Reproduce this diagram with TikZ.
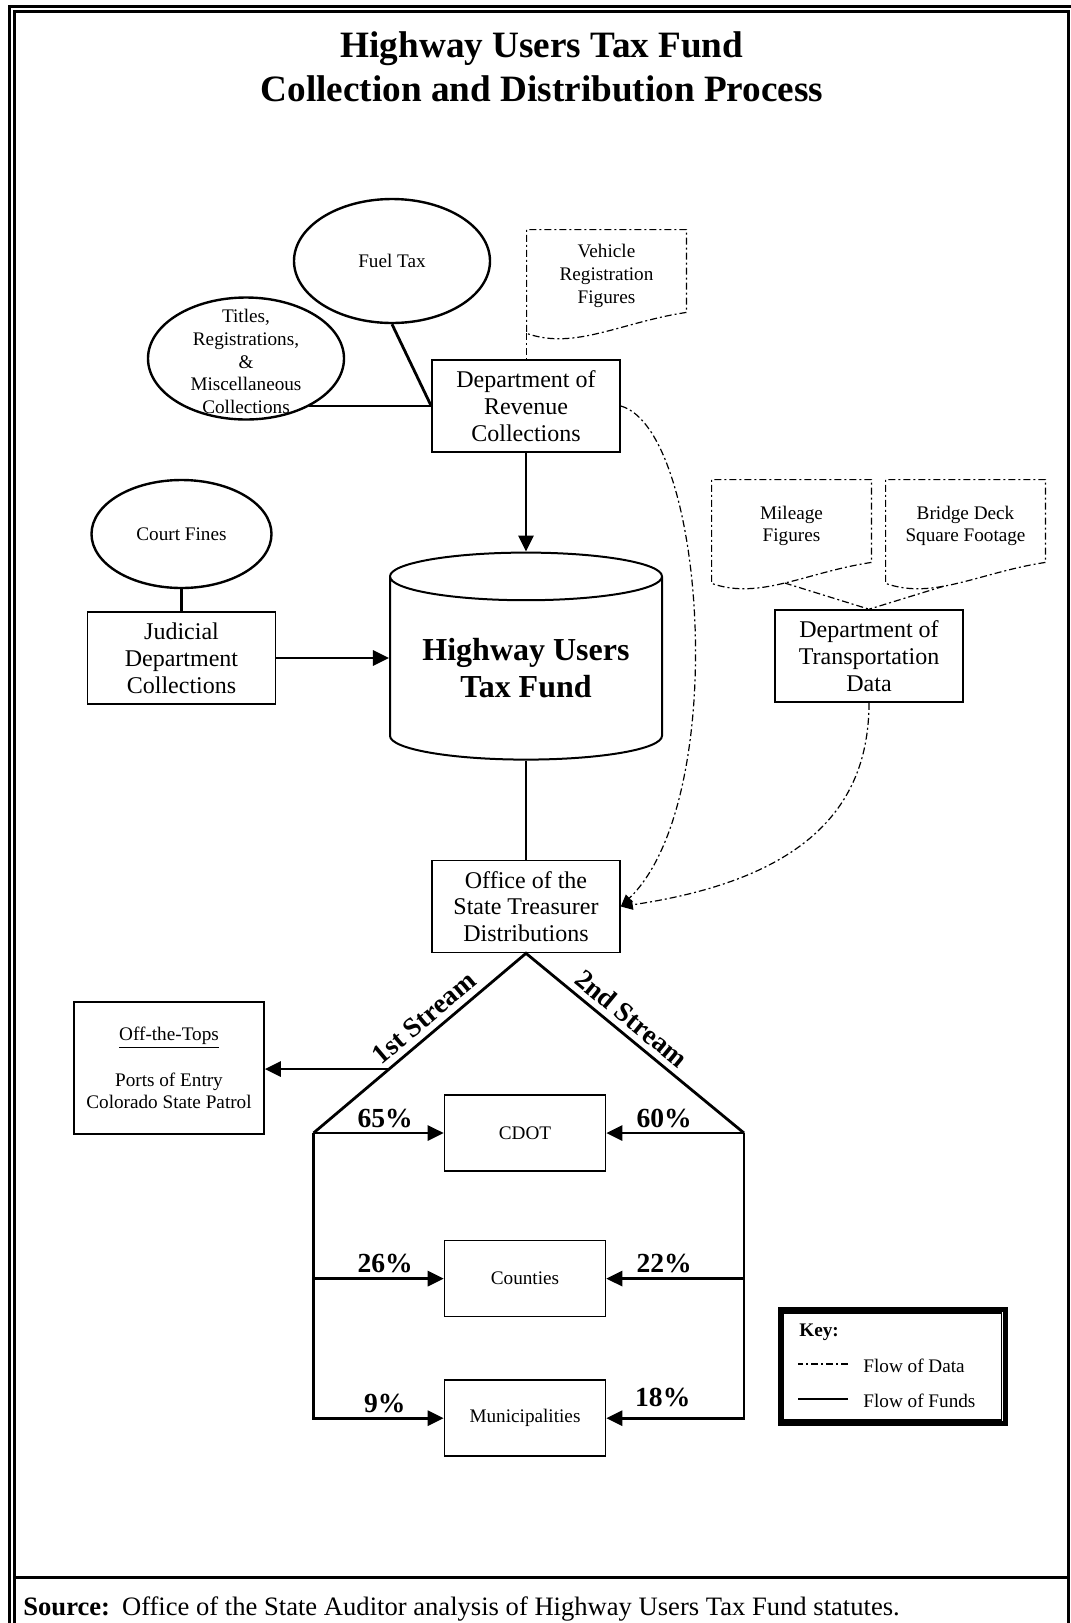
\documentclass[tikz,border=0pt]{standalone}
\usepackage{fontspec}
\setmainfont{Liberation Serif}
\usetikzlibrary{shapes.geometric, arrows.meta, positioning, calc}

\newcommand{\ovaltext}[1]{\smash{\raisebox{-5pt}{\begin{tabular}{@{}c@{}}#1\end{tabular}}}}
\newcommand{\docoutline}[2]{%
  \draw[data] ($(#1.south east)+(0,-10)$)
    .. controls ($(#1.south east)+(-66,0)$) and ($(#1.south west)+(48,28)$) ..
    ($(#1.south west)+(0,11)$) coordinate[pos=#2] (#1-dip) coordinate (#1-foot)
    -- (#1.north west) -- (#1.north east) -- cycle;}

\begin{document}
\begin{tikzpicture}[
  x=0.5pt, y=-0.5pt,
  dept/.style={rectangle, draw, line width=0.8pt, minimum width=94pt, minimum height=46pt, inner sep=1pt, align=center, font=\fontsize{12}{13.4}\selectfont},
  oval/.style={ellipse, draw, line width=1.2pt, inner sep=0pt, font=\fontsize{9.6}{11.4}\selectfont},
  datadoc/.style={rectangle, minimum width=79.5pt, minimum height=46pt, inner sep=0pt, align=center, font=\fontsize{9.6}{11.4}\selectfont},
  share/.style={rectangle, draw, line width=0.8pt, minimum width=80.5pt, minimum height=38pt, font=\fontsize{9.6}{11.4}\selectfont},
  fund/.style={line width=1.4pt},
  fundarrow/.style={fund, -{Triangle[length=8pt, width=7.5pt]}},
  data/.style={line width=0.6pt, dash pattern=on 3.5pt off 1.5pt on 1pt off 1.5pt},
  dataarrow/.style={data, -{Triangle[length=6pt, width=5pt]}},
  pct/.style={font=\fontsize{13.8}{15}\bfseries\selectfont, inner sep=2pt},
  stream/.style={font=\fontsize{13.8}{15}\bfseries\selectfont, inner sep=3pt},
  keytext/.style={anchor=west, inner sep=0pt, font=\fontsize{9.6}{11}\selectfont},
  frame/.style={line width=1.5pt}
]
\useasboundingbox (0,0) rectangle (1071,1623);
\clip (0,0) rectangle (1071,1623);

% page frame
\draw[frame] (9.5,1640) -- (9.5,6.5) -- (1090,6.5);
\draw[frame] (14.5,1640) -- (14.5,11.5) -- (1068.5,11.5) -- (1068.5,1640);
\draw[frame] (14.5,1577) -- (1068.5,1577);

\node[font=\fontsize{18.6}{21.75}\bfseries\selectfont, align=center] (title) at (542,67)
  {Highway Users Tax Fund\\Collection and Distribution Process};

% collections
\node[oval, minimum width=98pt, minimum height=62pt] (fuel) at (392,261) {Fuel Tax};
\node[oval, minimum width=98pt, minimum height=61pt] (titles) at (246,358.5)
  {\ovaltext{Titles,\\Registrations,\\\&\\Miscellaneous\\Collections}};
\node[dept] (dor) at (526,406) {Department of\\Revenue\\Collections};
\node[datadoc] (veh) at (606.5,276) {Vehicle\\Registration\\Figures};
\docoutline{veh}{0.5}

\node[oval, minimum width=90pt, minimum height=54pt] (court) at (181.5,534) {Court Fines};
\node[dept, below=11pt of court] (jud) {Judicial\\Department\\Collections};

\node[cylinder, shape border rotate=90, draw, line width=1pt, minimum width=136pt,
  minimum height=103.5pt, aspect=0.23, inner sep=0pt, align=center,
  font=\fontsize{16}{18.5}\bfseries\selectfont] (hutf) at (526,668.5) {Highway Users\\Tax Fund};

\node[dept] (dot) at (869,656) {Department of\\Transportation\\Data};
\node[datadoc] (mileage) at (791.5,526) {Mileage\\Figures};
\node[datadoc] (bridge) at (965.5,526) {Bridge Deck\\Square Footage};
\docoutline{mileage}{0.5}
\docoutline{bridge}{0.6}

\node[dept] (treas) at (526,906.5) {Office of the\\State Treasurer\\Distributions};

% distribution
\node[share] (cdot) at (525,1133) {CDOT};
\node[share, below=34pt of cdot] (counties) {Counties};
\node[share, below=31pt of counties] (muni) {Municipalities};
\coordinate (lcorner) at (313.5,1133);
\coordinate (rcorner) at (744,1133);
\node[rectangle, draw, line width=0.8pt, minimum width=95pt, minimum height=66pt, align=center,
  font=\fontsize{9.6}{11.4}\selectfont] (otp) at (169,1068)
  {\underline{Off-the-Tops}\\[11.4pt]Ports of Entry\\Colorado State Patrol};

% key
\node[draw, line width=2.5pt, minimum width=112.5pt, minimum height=57pt] (key) at (892.5,1366.4) {};
\draw[line width=0.6pt] ([shift={(3pt,-3pt)}]key.north west) rectangle ([shift={(-3pt,3pt)}]key.south east);
\node[keytext, font=\fontsize{9.6}{11}\bfseries\selectfont] (keyhead) at (799,1332) {Key:};
\node[keytext] (keydata) at (863,1366) {Flow of Data};
\node[keytext] (keyfund) at (863,1401) {Flow of Funds};
\draw[data] ($(keydata.west)+(-15,-2)$) -- +(-50,0);
\draw[fund] ($(keyfund.west)+(-15,-2)$) -- +(-50,0);

\node[anchor=west, inner sep=0pt, font=\fontsize{13.3}{15}\selectfont] (source) at (23,1609)
  {\textbf{Source:}\hspace{0.45em}Office of the State Auditor analysis of Highway Users Tax Fund statutes.};

% flows into the fund
\draw[fund] (fuel.south) -- (dor.west);
\draw[fund] (dor.west) -- (dor.west -| titles.-37);
\draw[data] (veh-foot) -- (veh-foot |- dor.north);
\draw[fund] (court) -- (jud);
\draw[fundarrow] (dor.south) -- (hutf.north);
\draw[fundarrow] (jud.east) -- (jud.east -| hutf.west);
\draw[fund] (hutf.south) -- (treas.north);
\draw[data] (mileage-dip) -- (dot.north);
\draw[data] (bridge-dip) -- (dot.north);
\draw[dataarrow] (dor.east) .. controls +(85,24) and +(110,-106.5) .. (treas.east);
\draw[dataarrow] (dot.south) .. controls +(0,107.5) and +(180,-26.5) .. (treas.east);

% the two streams
\draw[fund] (lcorner) -- (treas.south)
  node[stream, pos=0.57, sloped, above] {1st Stream} coordinate[pos=0.356] (otpjoin)
  -- (rcorner) node[stream, pos=0.436, sloped, above] {2nd Stream};
\draw[fundarrow] (otpjoin) -- (otpjoin -| otp.east);
\draw[fundarrow] (lcorner) -- (cdot.west) node[pct, pos=0.55, above] {65\%};
\draw[fundarrow] (rcorner) -- (cdot.east) node[pct, pos=0.58, above] {60\%};
\draw[fundarrow] (lcorner |- counties.west) -- (counties.west) node[pct, pos=0.55, above] {26\%};
\draw[fundarrow] (rcorner |- counties.east) -- (counties.east) node[pct, pos=0.58, above] {22\%};
\draw[fundarrow] (lcorner) |- (muni.west) node[pct, pos=0.774, above] {9\%};
\draw[fundarrow] (rcorner) |- (muni.east) node[pct, pos=0.795, above=3pt] {18\%};
\end{tikzpicture}
\end{document}
